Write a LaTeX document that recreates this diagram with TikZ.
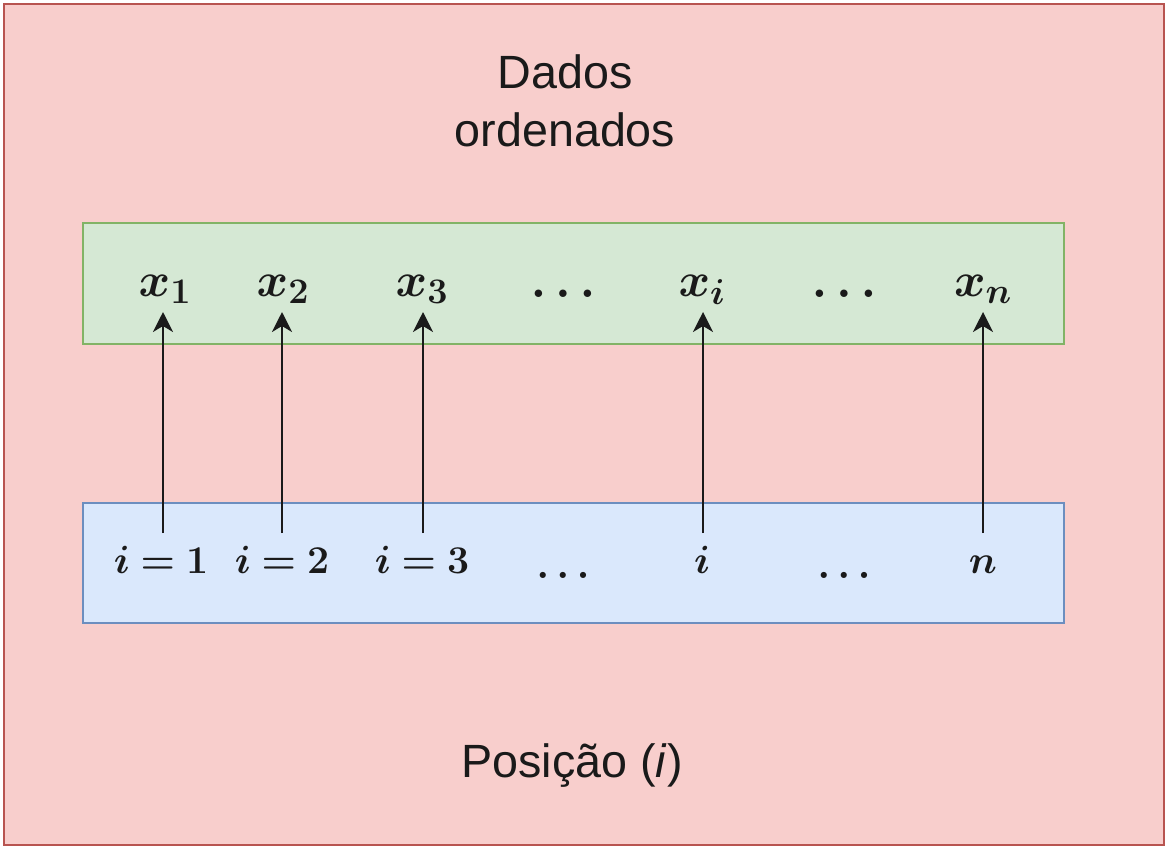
\RequirePackage{fix-cm}
\documentclass[tikz,border=0pt]{standalone}
\usepackage[no-math]{fontspec}
\setmainfont{Liberation Sans}
\usepackage{amsmath}
\usepackage{bm}
\DeclareMathSizes{36}{36}{27}{20}
\usetikzlibrary{arrows.meta}
\definecolor{outerfill}{HTML}{F8CECC}
\definecolor{outerdraw}{HTML}{B85450}
\definecolor{greenfill}{HTML}{D5E8D4}
\definecolor{greendraw}{HTML}{82B366}
\definecolor{bluefill}{HTML}{DAE8FC}
\definecolor{bluedraw}{HTML}{6C8EBF}
\definecolor{ink}{HTML}{1A1A1A}
\tikzset{
  panel/.style={line width=1.5pt},
  toplabel/.style={anchor=base, inner sep=0pt, text=ink, font=\fontsize{36}{44}\selectfont},
  botlabel/.style={anchor=base, inner sep=0pt, text=ink, font=\fontsize{29.5}{36}\selectfont},
  caption/.style={anchor=base, inner sep=0pt, text=ink, align=center, font=\fontsize{35}{43.5}\selectfont},
  arr/.style={draw=ink, line width=1.5pt, -{Stealth[length=15pt,width=15pt,inset=4.5pt]}}
}
\begin{document}
\begin{tikzpicture}[x=0.75pt,y=-0.75pt]
\useasboundingbox (0,0) rectangle (1167,850);
% outer panel
\draw[panel, fill=outerfill, draw=outerdraw] (3.5,3.5) rectangle (1163.5,844.5);
% green and blue boxes
\draw[panel, fill=greenfill, draw=greendraw] (83,223) rectangle (1064,344);
\draw[panel, fill=bluefill, draw=bluedraw] (83,503) rectangle (1064,623);
% titles
\node[caption] (title) at (565,146) {Dados\\ordenados};
\node[caption] (pos) at (572,777) {Posição (\textit{i})};
% top labels
\node[toplabel] (x1) at (165,296) {$\bm{x_1}$};
\node[toplabel] (x2) at (283,296) {$\bm{x_2}$};
\node[toplabel] (x3) at (422,296) {$\bm{x_3}$};
\node[toplabel] (xd1) at (563,297) {$\bm{\ldots}$};
\node[toplabel] (xi) at (702,296) {$\bm{x_i}$};
\node[toplabel] (xd2) at (844,297) {$\bm{\ldots}$};
\node[toplabel] (xn) at (983,296) {$\bm{x_n}$};
% bottom labels
\node[botlabel] (b1) at (161,573) {$\bm{i=1}$};
\node[botlabel] (b2) at (282,573) {$\bm{i=2}$};
\node[botlabel] (b3) at (422,573) {$\bm{i=3}$};
\node[botlabel] (bd1) at (563,578) {$\bm{\ldots}$};
\node[botlabel] (bi) at (702,573) {$\bm{i}$};
\node[botlabel] (bd2) at (844,578) {$\bm{\ldots}$};
\node[botlabel] (bn) at (983,573) {$\bm{n}$};
% arrow endpoints
\coordinate (s1) at (163,533); \coordinate (e1) at (163,312);
\coordinate (s2) at (282,533); \coordinate (e2) at (282,312);
\coordinate (s3) at (423,533); \coordinate (e3) at (423,312);
\coordinate (si) at (703,533); \coordinate (ei) at (703,312);
\coordinate (sn) at (983,533); \coordinate (en) at (983,312);
\draw[arr] (s1) -- (e1);
\draw[arr] (s2) -- (e2);
\draw[arr] (s3) -- (e3);
\draw[arr] (si) -- (ei);
\draw[arr] (sn) -- (en);
\end{tikzpicture}
\end{document}
